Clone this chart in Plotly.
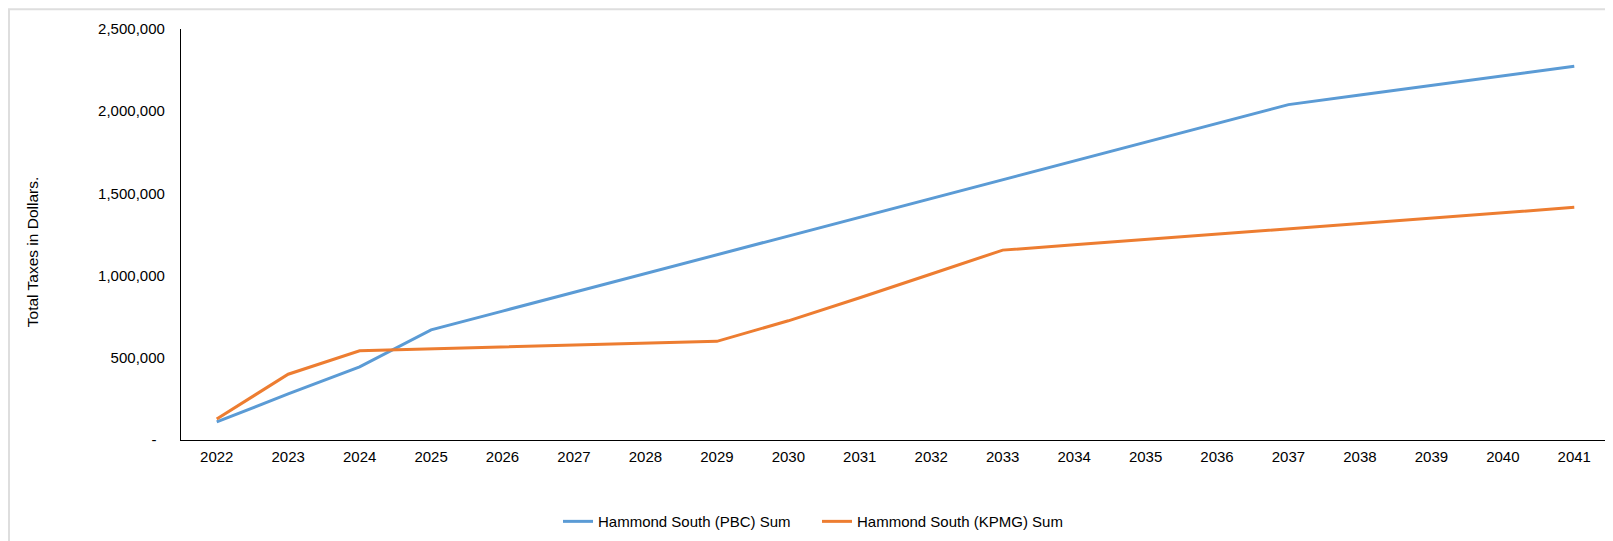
import plotly.graph_objects as go

years = [str(y) for y in range(2022, 2042)]
pbc_sum = [110000, 280000, 445000, 670000, 784000, 898000, 1012000, 1126000,
           1240000, 1354000, 1468000, 1582000, 1696000, 1810000, 1924000, 2040000,
           2098000, 2156000, 2214000, 2274000]
kpmg_sum = [128000, 400000, 543000, 555000, 566000, 577000, 588000, 600000,
            725000, 865000, 1010000, 1155000, 1187000, 1219000, 1251000, 1283000,
            1316000, 1349000, 1382000, 1415000]
series_names = ["Hammond South (PBC) Sum", "Hammond South (KPMG) Sum"]
y_tickvals = [0, 500000, 1000000, 1500000, 2000000, 2500000]
y_ticktext = ["-\u00a0\u00a0", "500,000", "1,000,000", "1,500,000", "2,000,000", "2,500,000"]
y_title = "Total Taxes in Dollars."

W, H = 1613, 541
L, R, T, B = 173, 11, 21, 102
pw = W - L - R
ph = H - T - B

def px_x(p):
    return (p - L) / pw

def px_y(p):
    return (H - B - p) / ph

font = "Liberation Sans, Arial, sans-serif"

fig = go.Figure()
fig.add_trace(go.Scatter(x=years, y=pbc_sum, mode="lines", name=series_names[0],
                         line=dict(color="#5B9BD5", width=3)))
fig.add_trace(go.Scatter(x=years, y=kpmg_sum, mode="lines", name=series_names[1],
                         line=dict(color="#ED7D31", width=3)))

fig.update_layout(
    width=W, height=H,
    margin=dict(l=L, r=R, t=T, b=B, pad=0),
    paper_bgcolor="white", plot_bgcolor="white",
    font=dict(family=font, size=15, color="#000000"),
    showlegend=True,
    legend=dict(orientation="h", x=px_x(550), xanchor="left", y=px_y(522), yanchor="middle",
                font=dict(size=15), itemwidth=30, entrywidth=214,
                bgcolor="rgba(0,0,0,0)"),
    xaxis=dict(type="category", range=[-0.5, 19.5], showgrid=False, zeroline=False,
               showline=True, linecolor="#000000", linewidth=1.3, ticks="",
               ticklabelstandoff=3, fixedrange=True),
    yaxis=dict(range=[0, 2500000], showgrid=False, zeroline=False,
               showline=True, linecolor="#000000", linewidth=1.3, ticks="",
               tickvals=y_tickvals, ticktext=y_ticktext, ticklabelstandoff=12,
               fixedrange=True),
    shapes=[dict(type="rect", xref="paper", yref="paper",
                 x0=px_x(1), x1=px_x(1640), y0=px_y(580), y1=px_y(1),
                 line=dict(color="#dedede", width=2), layer="below")],
    annotations=[dict(text=y_title, xref="paper", yref="paper",
                      x=px_x(24), y=px_y(248), textangle=-90, showarrow=False,
                      xanchor="center", yanchor="middle",
                      font=dict(size=15.5, family=font))],
)

fig.write_html("out.html")
